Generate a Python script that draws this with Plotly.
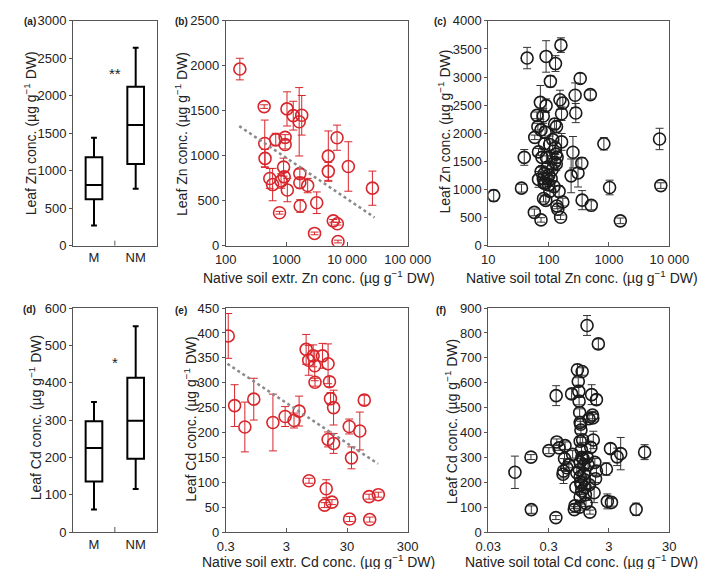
import math
import plotly.graph_objects as go

W, H = 709, 569
FONT = "Arial, Liberation Sans, sans-serif"
RED = "#d7262c"
BLK = "#1a1a1a"

# ---------- data ----------
box_groups = ["M", "NM"]
a_q1 = [620, 1090]; a_med = [810, 1610]; a_q3 = [1180, 2120]
a_lo = [270, 760]; a_hi = [1440, 2640]
d_q1 = [135, 196]; d_med = [225, 298]; d_q3 = [297, 413]
d_lo = [60, 115]; d_hi = [348, 551]

b_x = [171, 430, 440, 445, 533, 593, 668, 771, 817, 899, 920, 953, 953, 1023, 1036,
       1297, 1625, 1666, 1666, 1687, 1790, 2244, 2913, 3162, 4908, 4908, 5929, 6840,
       6923, 7093, 10500, 26200]
b_y = [1964, 1547, 1137, 971, 748, 680, 1180, 367, 719, 874, 766, 1205, 1126, 1521, 619,
       1446, 1378, 802, 701, 442, 1450, 669, 137, 478, 996, 827, 277, 1201,
       245, 47, 881, 640]
b_e = [120, 20, 260, 100, 110, 180, 70, 15, 80, 100, 60, 30, 50, 190, 130,
       160, 380, 50, 60, 70, 220, 80, 15, 120, 280, 100, 15, 140,
       15, 15, 275, 190]
b_trend_x = [167, 28400]
b_trend_y = [1330, 315]

c_x = [12.3, 35.5, 39.5, 44, 58, 58.9, 64, 66.4, 68, 68, 73, 74.8, 74.8, 75.2, 77.6,
       81.5, 82.4, 84.5, 84.5, 85.5, 87.5, 89.7, 90.8, 90.8, 91.9, 95.3, 96.4, 100,
       104, 107, 110, 114, 117, 123, 126, 129, 130, 132, 134, 135, 137, 138, 142, 149,
       154, 158, 160, 164, 164, 172, 172, 236, 253, 275, 282, 307, 334, 355, 359, 491,
       509, 824, 1024, 1542, 6890, 7230, 81.5, 101, 126, 89, 105]
c_y = [892, 1024, 1571, 3338, 593, 1928, 2319, 2118, 1669, 1180, 2550, 460, 2060, 1318, 1571,
       2308, 840, 1283, 1111, 1813, 2020, 806, 3367, 2492, 1571, 1197, 1398, 1082,
       1801, 2924, 1197, 1352, 1888, 1053, 2164, 1744, 3240, 1629, 1456, 2118, 708, 1571, 650, 967,
       2596, 506, 3568, 2348, 1847, 777, 2538, 1243, 1663, 2676, 2360, 1295, 2975, 1467, 811, 2688,
       719, 1813, 1036, 443, 1899, 1070, 1197, 1255, 1485, 1111, 967]
c_e = [100, 70, 140, 190, 60, 40, 60, 60, 60, 140, 300, 40, 100, 80, 150,
       130, 60, 120, 90, 100, 100, 80, 280, 120, 100, 90, 200, 100,
       150, 100, 100, 200, 200, 100, 100, 120, 140, 200, 120, 100, 50, 100, 50, 100,
       170, 40, 130, 120, 150, 70, 100, 300, 280, 220, 170, 250, 90, 100, 170, 80,
       80, 110, 130, 50, 190, 50, 100, 120, 150, 100, 90]

e_x = [0.33, 0.42, 0.62, 0.87, 1.80, 2.86, 4.01, 4.86, 6.35, 7.0, 7.08, 8.29, 8.8, 8.9,
       11.8, 12.8, 13.6, 14.6, 14.6, 15.4, 16.0, 16.9, 18.0, 18.0, 32.6, 33.0, 35.5,
       48.7, 57.7, 69.2, 70.9, 98.4]
e_y = [394, 254, 211, 267, 220, 232, 224, 243, 367, 345, 103, 354, 334, 301,
       354, 54, 87, 338, 186, 302, 268, 60, 178, 250, 212, 26, 149,
       203, 265, 71, 25, 75]
e_e = [45, 42, 50, 42, 57, 20, 15, 30, 30, 30, 5, 22, 30, 8,
       25, 5, 18, 40, 15, 10, 12, 5, 20, 35, 15, 5, 22,
       38, 10, 5, 5, 5]
e_trend_x = [0.32, 97.2]
e_trend_y = [338, 137]

f_x = [0.083, 0.153, 0.155, 0.303, 0.396, 0.40, 0.41, 0.447, 0.561, 0.52, 0.53, 0.55, 0.60,
       0.65, 0.722, 0.75, 0.80, 0.82, 0.85, 0.88, 0.90, 0.93, 0.95, 0.96, 0.98, 1.0, 1.02,
       1.03, 1.0, 1.05, 1.07, 1.0, 0.97, 1.0, 1.02, 1.04, 1.06, 1.0, 0.98, 1.08, 1.1, 1.12,
       1.15, 1.15, 1.18, 1.2, 1.22, 1.25, 1.3, 1.3, 1.35, 1.4, 1.42, 1.45, 1.5, 1.55, 1.6,
       1.62, 1.65, 1.7, 1.75, 1.8, 1.86, 1.86, 2.0, 2.72, 2.82, 3.18, 3.3, 4.1, 4.69, 8.46, 11.7]
f_y = [240, 301, 90, 327, 58, 548, 362, 338, 347, 232, 245, 295, 258,
       270, 555, 312, 90, 105, 180, 238, 652, 605, 565, 526, 480, 440, 433,
       410, 365, 330, 300, 280, 250, 222, 200, 190, 165, 140, 100, 645, 370, 295,
       270, 235, 210, 180, 150, 115, 830, 300, 270, 455, 190, 80, 340, 552, 470,
       458, 370, 158, 280, 214, 532, 245, 756, 253, 123, 335, 119, 302, 315, 91, 321]
f_e = [65, 10, 15, 12, 8, 40, 12, 10, 15, 15, 50, 20, 15,
       12, 20, 15, 12, 10, 20, 20, 22, 15, 20, 15, 15, 15, 12,
       15, 15, 20, 15, 15, 12, 15, 20, 15, 15, 12, 12, 15, 10, 20,
       15, 15, 15, 12, 15, 12, 40, 20, 15, 15, 15, 8, 20, 40, 15,
       15, 35, 40, 15, 15, 20, 20, 20, 25, 30, 20, 15, 35, 65, 25, 30]

# ---------- layout geometry (pixels) ----------
cols = [(55, 143), (216, 408), (493, 684)]
rows = [(6, 237), (301, 531)]


def xd(c):
    return [c[0] / W, c[1] / W]


def yd(r):
    return [1 - r[1] / H, 1 - r[0] / H]


fig = go.Figure()


def add_box(ax, q1, med, q3, lo, hi):
    for i in range(2):
        fig.add_trace(go.Box(
            x=[i], q1=[q1[i]], median=[med[i]], q3=[q3[i]],
            lowerfence=[lo[i]], upperfence=[hi[i]],
            width=0.4, whiskerwidth=0.35, fillcolor="white",
            line=dict(color="black", width=2), boxpoints=False,
            xaxis="x" + ax, yaxis="y" + ax, showlegend=False, hoverinfo="skip"))


def add_scatter(ax, x, y, e, color, ecolor):
    fig.add_trace(go.Scatter(
        x=x, y=y, mode="markers", xaxis="x" + ax, yaxis="y" + ax,
        marker=dict(symbol="circle-open", size=12, color=color, line=dict(width=1.6, color=color)),
        error_y=dict(type="data", array=e, visible=True, color=ecolor, thickness=1, width=4),
        showlegend=False))


add_box("", a_q1, a_med, a_q3, a_lo, a_hi)
add_scatter("2", b_x, b_y, b_e, RED, RED)
fig.add_trace(go.Scatter(x=b_trend_x, y=b_trend_y, mode="lines", xaxis="x2", yaxis="y2",
                         line=dict(color="#8a8a8a", width=2.5, dash="dot"), showlegend=False))
add_scatter("3", c_x, c_y, c_e, BLK, "#333333")
add_box("4", d_q1, d_med, d_q3, d_lo, d_hi)
add_scatter("5", e_x, e_y, e_e, RED, RED)
fig.add_trace(go.Scatter(x=e_trend_x, y=e_trend_y, mode="lines", xaxis="x5", yaxis="y5",
                         line=dict(color="#8a8a8a", width=2.5, dash="dot"), showlegend=False))
add_scatter("6", f_x, f_y, f_e, BLK, "#333333")

tickfont = dict(family=FONT, size=13, color="#222")
base_ax = dict(showline=True, mirror=True, linecolor="#555", linewidth=1,
               showgrid=False, zeroline=False, tickfont=tickfont)
yax = dict(ticks="outside", ticklen=3, tickcolor="#555")

lay = {}
for k, (c, r) in {"": (0, 0), "4": (0, 1)}.items():
    lay["xaxis" + k] = dict(base_ax, domain=xd(cols[c]), range=[-0.5, 1.5], tickvals=[0, 1],
                            ticktext=box_groups, ticks="", anchor="y" + k)
lay["yaxis"] = dict(base_ax, **yax, domain=yd(rows[0]), range=[0, 3000], dtick=500, anchor="x")
lay["yaxis4"] = dict(base_ax, **yax, domain=yd(rows[1]), range=[0, 600], dtick=100, anchor="x4")

logax = {
    "2": (1, 0, [2, 5], [100, 1000, 10000, 100000], ["100", "1000", "10 000", "100 000"], [0, 2500], 500),
    "3": (2, 0, [1, 4], [10, 100, 1000, 10000], ["10", "100", "1000", "10 000"], [0, 4000], 500),
    "5": (1, 1, [math.log10(0.3), math.log10(300)], [0.3, 3, 30, 300], ["0.3", "3", "30", "300"], [0, 450], 50),
    "6": (2, 1, [math.log10(0.03), math.log10(30)], [0.03, 0.3, 3, 30], ["0.03", "0.3", "3", "30"], [0, 900], 100),
}
for k, (c, r, rng, tv, tt, yr, dt) in logax.items():
    lay["xaxis" + k] = dict(base_ax, type="log", domain=xd(cols[c]), range=rng, tickvals=tv, ticktext=tt,
                            ticks="inside", ticklen=4, tickcolor="#555", ticklabelstandoff=2,
                            anchor="y" + k)
    lay["yaxis" + k] = dict(base_ax, **yax, domain=yd(rows[r]), range=yr, dtick=dt, anchor="x" + k)

fig.update_layout(width=W, height=H, margin=dict(l=0, r=0, t=0, b=0),
                  plot_bgcolor="white", paper_bgcolor="white", font=dict(family=FONT, color="#222"),
                  **lay)

unit = " (µg g<sup>−1</sup> DW)"
anns = []


def pann(text, x, y, size=14, angle=0, bold=False):
    anns.append(dict(text=("<b>%s</b>" % text) if bold else text, x=x / W, y=1 - y / H,
                     xref="paper", yref="paper", showarrow=False, textangle=angle,
                     font=dict(family=FONT, size=size, color="#222"), xanchor="center", yanchor="middle"))


# y titles
pann("Leaf Zn conc." + unit, 9, 122, angle=-90)
pann("Leaf Zn conc." + unit, 169, 122, angle=-90)
pann("Leaf Zn conc." + unit, 446, 120, angle=-90)
pann("Leaf Cd conc." + unit, 15, 413, angle=-90)
pann("Leaf Cd conc." + unit, 178, 415, angle=-90)
pann("Leaf Cd conc." + unit, 454, 417, angle=-90)
# x titles
pann("Native soil extr. Zn conc." + unit, 314, 269)
pann("Native soil total Zn conc." + unit, 592, 269)
pann("Native soil extr. Cd conc." + unit, 314, 561)
pann("Native soil total Cd conc." + unit, 591, 561)
# panel labels
pann("(a)", 9, 7, size=10, bold=True)
pann("(b)", 169, 7, size=10, bold=True)
pann("(c)", 442, 7, size=10, bold=True)
pann("(d)", 9, 302, size=10, bold=True)
pann("(e)", 169, 303, size=10, bold=True)
pann("(f)", 443, 303, size=10, bold=True)

anns.append(dict(text="**", x=0.5, y=2300, xref="x", yref="y", showarrow=False,
                 font=dict(family=FONT, size=15, color="#222")))
anns.append(dict(text="*", x=0.5, y=455, xref="x4", yref="y4", showarrow=False,
                 font=dict(family=FONT, size=15, color="#222")))
fig.update_layout(annotations=anns)

for k in ["", "4"]:
    fig.add_shape(type="line", xref="x" + k, yref="y" + k, x0=0.5, x1=0.5, y0=0, y1=5,
                  ysizemode="pixel", yanchor=0, line=dict(color="#555", width=1))

fig.write_html("out.html")
